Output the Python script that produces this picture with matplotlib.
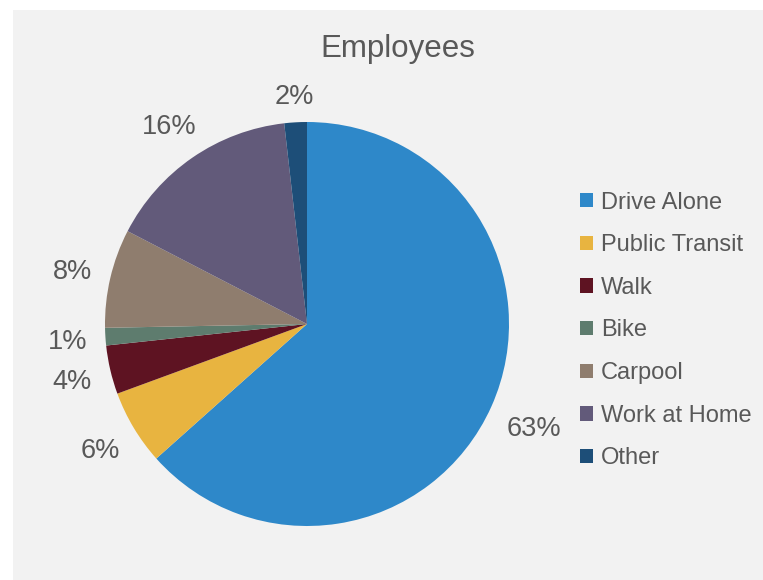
import matplotlib
matplotlib.use("Agg")
import matplotlib.pyplot as plt
import matplotlib.patches as mpatches
import numpy as np

categorias = ['Drive Alone', 'Public Transit', 'Walk', 'Bike', 'Carpool', 'Work at Home', 'Other']
valores = [63.4, 6.0, 3.9, 1.4, 7.9, 15.6, 1.8]
colores = ['#2E88C9', '#E8B440', '#5E1322', '#5E7C6E', '#8F7D6E', '#625A7A', '#1D4E78']
titulo = 'Employees'

plt.rcParams['font.family'] = ['Liberation Sans', 'DejaVu Sans']
gris_texto = '#595959'

fig = plt.figure(figsize=(7.63, 5.80), dpi=100)
fig.patch.set_facecolor('white')

# Fondo gris del área del gráfico
fig.patches.append(mpatches.Rectangle((13 / 763, 0), 1, 1 - 10 / 580,
                                      transform=fig.transFigure,
                                      facecolor='#F2F2F2', edgecolor='none',
                                      zorder=-5))

# Eje del pastel: centro (307, 324) px, radio ~202 px
R_PX = 202
lim = 1.3
half = R_PX * lim
cx, cy = 307, 580 - 324
ax = fig.add_axes([(cx - half) / 763, (cy - half) / 580,
                   2 * half / 763, 2 * half / 580])
ax.set_facecolor('none')
ax.set_zorder(2)

wedges, _, autotexts = ax.pie(valores, colors=colores, startangle=90,
                              counterclock=False, radius=1,
                              autopct='%1.0f%%', pctdistance=1.2,
                              wedgeprops=dict(linewidth=0))
ax.set_xlim(-lim, lim)
ax.set_ylim(-lim, lim)
ax.set_aspect('equal')
ax.axis('off')

for t in autotexts:
    t.set_fontsize(19.5)
    t.set_color(gris_texto)
    t.set_va('center_baseline')

# Etiquetas tipo "extremo externo": la caja del texto toca un círculo fijo
fig.canvas.draw()
renderer = fig.canvas.get_renderer()
for w, t in zip(wedges, autotexts):
    theta = np.deg2rad((w.theta1 + w.theta2) / 2)
    ancho = t.get_window_extent(renderer).width / 2
    alto = 10
    r = (219.5 + ancho * abs(np.cos(theta)) + alto * abs(np.sin(theta))) / R_PX
    t.set_position((r * np.cos(theta), r * np.sin(theta)))

fig.text(397.5 / 763, 1 - 48.5 / 580, titulo, ha='center', va='center',
         fontsize=22.5, color=gris_texto)

leg = fig.legend(wedges, categorias, loc='center left',
                 bbox_to_anchor=(580 / 763, 1 - 330.5 / 580),
                 frameon=False, fontsize=17, handlelength=0.55,
                 handleheight=0.55, handletextpad=0.35, labelspacing=0.875,
                 borderpad=0, borderaxespad=0)
for t in leg.get_texts():
    t.set_color(gris_texto)

plt.savefig('out.png', dpi=100)
